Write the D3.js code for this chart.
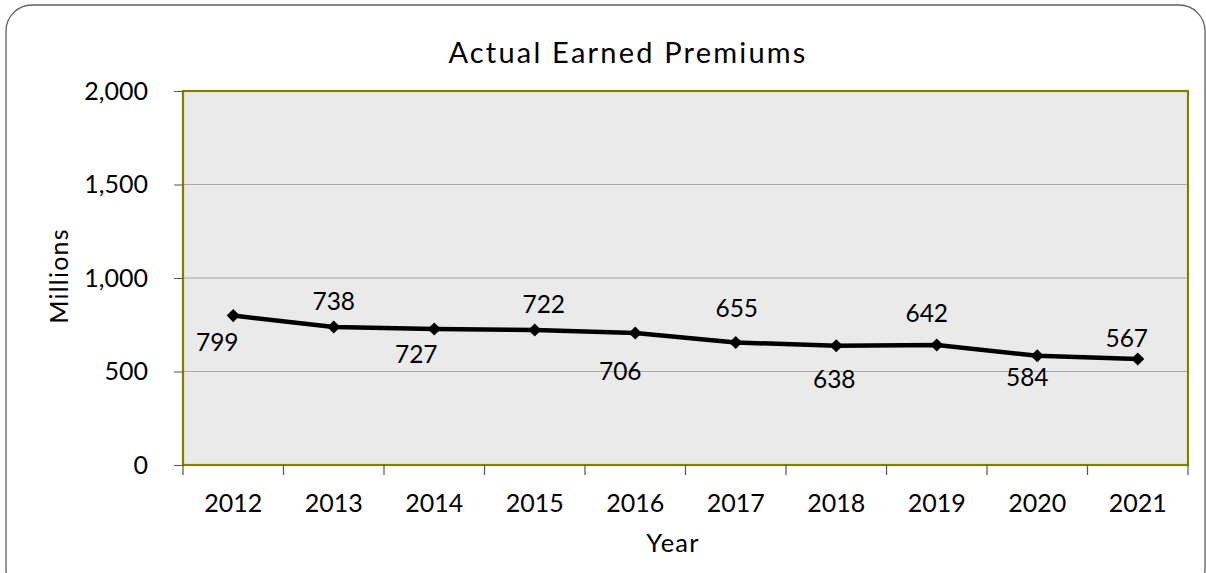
<!DOCTYPE html>
<html><head><meta charset="utf-8">
<script src="https://cdn.jsdelivr.net/npm/d3@7"></script>
<style>
html,body{margin:0;padding:0;background:#fff;}
svg{display:block;font-family:Lato,"Open Sans",sans-serif;}
</style></head>
<body>
<svg id="chart" width="1206" height="573"></svg>
<script>
const years = ["2012","2013","2014","2015","2016","2017","2018","2019","2020","2021"];
const premiums = [799,738,727,722,706,655,638,642,584,567];
const yTicks = [0,500,1000,1500,2000];
// label offsets relative to each point (layout only)
const labelDx = [-16,0,-18,9,-15,1,-2,-10,-10,-11];
const labelDy = [35,-17,34,-17,47,-26,42,-23,30,-12];

const svg = d3.select("#chart");
const m = {left:183, right:1188, top:91, bottom:465};

// outer frame
svg.append("rect").attr("x",6).attr("y",5).attr("width",1199).attr("height",590)
  .attr("rx",26).attr("ry",26).attr("fill","#fff").attr("stroke","#5f5f5f").attr("stroke-width",1.3);

const x = d3.scaleBand().domain(years).range([m.left,m.right]).padding(0);
const y = d3.scaleLinear().domain([0,2000]).range([m.bottom,m.top]);

// plot background
svg.append("rect").attr("x",m.left).attr("y",m.top).attr("width",m.right-m.left).attr("height",m.bottom-m.top)
  .attr("fill","#eaeaea");

// gridlines
svg.append("g").selectAll("line").data(yTicks.filter(d=>d>0 && d<2000)).join("line")
  .attr("x1",m.left).attr("x2",m.right).attr("y1",d=>y(d)).attr("y2",d=>y(d))
  .attr("stroke","#a6a6a6").attr("stroke-width",1.2);

// plot border
svg.append("rect").attr("x",m.left).attr("y",m.top).attr("width",m.right-m.left).attr("height",m.bottom-m.top)
  .attr("fill","none").attr("stroke","#808000").attr("stroke-width",2.2);

// y axis
const yAxis = d3.axisLeft(y).tickValues(yTicks).tickSize(9).tickPadding(26).tickFormat(d3.format(","));
const gy = svg.append("g").attr("transform",`translate(${m.left},0)`).call(yAxis);
gy.select(".domain").remove();
gy.selectAll(".tick line").attr("stroke","#555");
gy.selectAll(".tick text").attr("font-size",25).attr("fill","#000").attr("font-family","Lato");

// x axis ticks at category boundaries
const boundaries = years.map(d=>x(d)).concat([m.right]);
svg.append("g").selectAll("line").data(boundaries).join("line")
  .attr("x1",d=>d).attr("x2",d=>d).attr("y1",m.bottom).attr("y2",m.bottom+10)
  .attr("stroke","#555").attr("stroke-width",1.2);
const xAxis = d3.axisBottom(x).tickSize(0).tickPadding(29);
const gx = svg.append("g").attr("transform",`translate(0,${m.bottom})`).call(xAxis);
gx.select(".domain").remove();
gx.selectAll(".tick text").attr("font-size",25).attr("fill","#000").attr("font-family","Lato");

// line
const cx = d=>x(d)+x.bandwidth()/2;
const line = d3.line().x((d,i)=>cx(years[i])).y(d=>y(d));
svg.append("path").datum(premiums).attr("d",line).attr("fill","none")
  .attr("stroke","#000").attr("stroke-width",4.5).attr("stroke-linejoin","round");

// markers
svg.append("g").selectAll("path").data(premiums).join("path")
  .attr("d",d3.symbol().type(d3.symbolDiamond2).size(110))
  .attr("transform",(d,i)=>`translate(${cx(years[i])},${y(d)})`)
  .attr("fill","#000");

// data labels
svg.append("g").selectAll("text").data(premiums).join("text")
  .attr("x",(d,i)=>cx(years[i])+labelDx[i]).attr("y",(d,i)=>y(d)+labelDy[i])
  .attr("text-anchor","middle").attr("font-size",24.5).attr("fill","#000")
  .text(d=>d);

// title
svg.append("text").attr("x",628).attr("y",63).attr("text-anchor","middle")
  .attr("font-size",29).attr("letter-spacing",2.2).attr("fill","#000").text("Actual Earned Premiums");

// axis titles
svg.append("text").attr("transform","translate(68,276) rotate(-90)").attr("text-anchor","middle")
  .attr("font-size",25).attr("letter-spacing",1.2).attr("fill","#000").text("Millions");
svg.append("text").attr("x",673).attr("y",552).attr("text-anchor","middle")
  .attr("font-size",25.5).attr("letter-spacing",1.2).attr("fill","#000").text("Year");
</script>
</body></html>
